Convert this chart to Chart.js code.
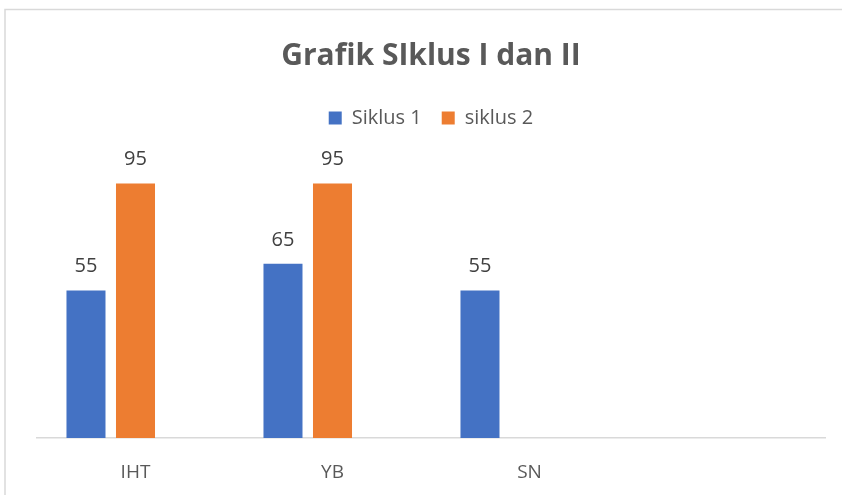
<!DOCTYPE html>
<html>
<head>
<meta charset="utf-8">
<script src="https://cdn.jsdelivr.net/npm/chart.js@4/dist/chart.umd.min.js"></script>
<style>
  html, body { margin: 0; padding: 0; background: #ffffff; }
  #wrap { width: 842px; height: 495px; position: relative; }
</style>
</head>
<body>
<div id="wrap"><canvas id="c" width="842" height="495"></canvas></div>
<script>
const categories = ['IHT', 'YB', 'SN', ''];
const siklus1 = [55, 65, 55, null];
const siklus2 = [95, 95, null, null];
const series3 = [null, null, null, null];
const seriesNames = ['Siklus 1', 'siklus 2', ''];
const titleText = 'Grafik SIklus I dan II';

const FONT = '"Open Sans", Lato, sans-serif';

const borderPlugin = {
  id: 'frame',
  beforeDraw(chart) {
    const ctx = chart.ctx;
    ctx.save();
    ctx.fillStyle = '#ffffff';
    ctx.fillRect(0, 0, chart.width, chart.height);
    ctx.strokeStyle = '#d9d9d9';
    ctx.lineWidth = 1.5;
    ctx.beginPath();
    ctx.moveTo(5, chart.height);
    ctx.lineTo(5, 9.5);
    ctx.lineTo(chart.width, 9.5);
    ctx.stroke();
    ctx.restore();
  }
};

const legendGapPlugin = {
  id: 'legendGap',
  afterInit(chart) {
    const lg = chart.legend;
    if (lg && !lg._gapWrapped) {
      const fit = lg.fit;
      lg.fit = function () {
        fit.call(this);
        this.height += 32;
      };
      lg._gapWrapped = true;
    }
  }
};

const valueLabels = {
  id: 'valueLabels',
  afterDatasetsDraw(chart) {
    const ctx = chart.ctx;
    ctx.save();
    ctx.font = '20px ' + FONT;
    ctx.fillStyle = '#404040';
    ctx.textAlign = 'center';
    ctx.textBaseline = 'middle';
    chart.data.datasets.forEach((ds, i) => {
      const meta = chart.getDatasetMeta(i);
      if (meta.hidden) return;
      meta.data.forEach((el, j) => {
        const v = ds.data[j];
        if (v === null || v === undefined) return;
        ctx.fillText(String(v), el.x, el.y - 24);
      });
    });
    ctx.restore();
  }
};

new Chart(document.getElementById('c'), {
  type: 'bar',
  data: {
    labels: categories,
    datasets: [
      { label: seriesNames[0], data: siklus1, backgroundColor: '#4472C4', borderWidth: 0 },
      { label: seriesNames[1], data: siklus2, backgroundColor: '#ED7D31', borderWidth: 0 },
      { label: seriesNames[2], data: series3, backgroundColor: '#A5A5A5', borderWidth: 0 }
    ]
  },
  options: {
    responsive: false,
    animation: false,
    devicePixelRatio: 1,
    categoryPercentage: 0.754,
    barPercentage: 0.788,
    layout: { padding: { left: 37, right: 17, top: 0, bottom: 11 } },
    plugins: {
      title: {
        display: true,
        text: titleText,
        color: '#595959',
        font: { family: FONT, size: 30, weight: 'bold' },
        padding: { top: 38, bottom: 14 }
      },
      legend: {
        display: true,
        position: 'top',
        labels: {
          color: '#595959',
          font: { family: FONT, size: 20 },
          boxWidth: 13,
          boxHeight: 13,
          padding: 20,
          filter: (item) => item.text !== ''
        }
      },
      tooltip: { enabled: false }
    },
    scales: {
      x: {
        grid: { display: false, drawTicks: false },
        border: { display: true, color: '#d9d9d9', width: 1.5 },
        ticks: {
          color: '#595959',
          font: { family: FONT, size: 19 },
          padding: 23,
          maxRotation: 0,
          autoSkip: false
        },
        afterFit(scale) { scale.height = 46; }
      },
      y: {
        display: false,
        min: 0,
        max: 100
      }
    }
  },
  plugins: [borderPlugin, legendGapPlugin, valueLabels]
});
</script>
</body>
</html>
